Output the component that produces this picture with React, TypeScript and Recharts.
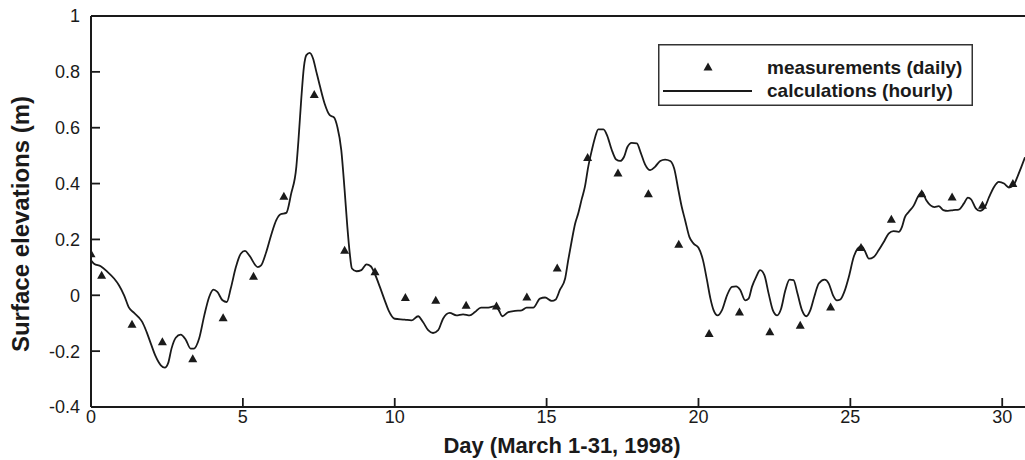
import React from 'react';
import { ComposedChart, Line, Scatter, XAxis, YAxis, ReferenceLine, Legend, Label } from 'recharts';

// ---- data ----
const measDays = [0, 0.35, 1.35, 2.35, 3.35, 4.35, 5.35, 6.35, 7.35, 8.35, 9.35, 10.35, 11.35, 12.35, 13.35, 14.35, 15.35, 16.35, 17.35, 18.35, 19.35, 20.35, 21.35, 22.35, 23.35, 24.35, 25.35, 26.35, 27.35, 28.35, 29.35, 30.35];
const measValues = [0.149, 0.072, -0.104, -0.166, -0.227, -0.08, 0.068, 0.355, 0.719, 0.161, 0.084, -0.008, -0.018, -0.036, -0.038, -0.006, 0.098, 0.493, 0.438, 0.364, 0.183, -0.137, -0.06, -0.131, -0.107, -0.042, 0.171, 0.272, 0.364, 0.352, 0.322, 0.4];

const calcDays = [0.00, 0.10, 0.32, 0.54, 0.76, 0.92, 1.09, 1.25, 1.42, 1.58, 1.69, 1.83, 1.97, 2.13, 2.30, 2.43, 2.54, 2.65, 2.79, 2.95, 3.12, 3.28, 3.39, 3.56, 3.73, 3.89, 4.03, 4.16, 4.33, 4.47, 4.60, 4.77, 4.93, 5.07, 5.21, 5.49, 5.60, 5.77, 5.93, 6.10, 6.24, 6.43, 6.59, 6.76, 6.83, 6.92, 7.01, 7.09, 7.20, 7.31, 7.42, 7.53, 7.69, 7.86, 8.00, 8.11, 8.24, 8.35, 8.44, 8.52, 8.59, 8.74, 8.90, 9.07, 9.21, 9.34, 9.51, 9.67, 9.80, 10.00, 10.33, 10.55, 10.77, 10.93, 11.10, 11.26, 11.43, 11.59, 11.81, 12.03, 12.25, 12.47, 12.64, 12.84, 13.08, 13.30, 13.43, 13.54, 13.74, 13.96, 14.18, 14.34, 14.56, 14.78, 14.95, 15.17, 15.30, 15.44, 15.61, 15.71, 15.83, 15.94, 16.04, 16.16, 16.26, 16.37, 16.49, 16.60, 16.70, 16.87, 17.00, 17.14, 17.29, 17.42, 17.55, 17.66, 17.80, 17.97, 18.10, 18.24, 18.41, 18.57, 18.74, 18.90, 19.07, 19.20, 19.34, 19.45, 19.56, 19.70, 19.84, 20.00, 20.15, 20.28, 20.39, 20.50, 20.63, 20.77, 20.94, 21.10, 21.24, 21.37, 21.54, 21.65, 21.76, 21.90, 22.03, 22.17, 22.31, 22.45, 22.59, 22.72, 22.86, 23.00, 23.13, 23.26, 23.41, 23.55, 23.68, 23.81, 23.96, 24.15, 24.29, 24.43, 24.56, 24.67, 24.80, 24.95, 25.11, 25.24, 25.37, 25.48, 25.61, 25.77, 25.93, 26.10, 26.26, 26.42, 26.59, 26.70, 26.79, 26.92, 27.09, 27.22, 27.36, 27.50, 27.64, 27.77, 27.91, 28.06, 28.21, 28.39, 28.57, 28.74, 28.87, 28.98, 29.13, 29.27, 29.43, 29.57, 29.73, 29.89, 30.06, 30.22, 30.37, 30.50, 30.63, 30.75];
const calcValues = [0.125, 0.113, 0.104, 0.084, 0.060, 0.036, 0.000, -0.044, -0.063, -0.080, -0.096, -0.131, -0.173, -0.219, -0.251, -0.259, -0.243, -0.191, -0.152, -0.141, -0.159, -0.191, -0.191, -0.155, -0.072, -0.006, 0.020, 0.012, -0.018, -0.024, 0.024, 0.101, 0.149, 0.159, 0.143, 0.101, 0.107, 0.155, 0.215, 0.269, 0.290, 0.295, 0.364, 0.460, 0.555, 0.699, 0.818, 0.860, 0.868, 0.848, 0.800, 0.752, 0.687, 0.645, 0.637, 0.603, 0.520, 0.376, 0.245, 0.149, 0.096, 0.086, 0.090, 0.111, 0.104, 0.078, 0.030, -0.018, -0.055, -0.084, -0.087, -0.090, -0.075, -0.096, -0.125, -0.135, -0.125, -0.084, -0.063, -0.072, -0.068, -0.072, -0.060, -0.044, -0.044, -0.039, -0.054, -0.075, -0.060, -0.056, -0.054, -0.044, -0.044, -0.012, -0.008, -0.020, -0.015, 0.020, 0.060, 0.125, 0.197, 0.257, 0.293, 0.346, 0.388, 0.460, 0.520, 0.567, 0.594, 0.594, 0.570, 0.522, 0.486, 0.481, 0.496, 0.531, 0.546, 0.544, 0.510, 0.469, 0.448, 0.460, 0.481, 0.486, 0.481, 0.454, 0.376, 0.316, 0.269, 0.209, 0.185, 0.170, 0.125, 0.054, -0.010, -0.054, -0.072, -0.054, 0.000, 0.030, 0.032, 0.020, -0.018, -0.012, 0.030, 0.066, 0.090, 0.072, 0.006, -0.054, -0.072, -0.048, 0.018, 0.056, 0.054, 0.006, -0.054, -0.075, -0.054, -0.006, 0.042, 0.056, 0.042, 0.000, -0.018, -0.015, 0.012, 0.066, 0.137, 0.167, 0.176, 0.158, 0.131, 0.137, 0.161, 0.191, 0.221, 0.230, 0.227, 0.245, 0.278, 0.298, 0.322, 0.352, 0.370, 0.340, 0.322, 0.316, 0.319, 0.305, 0.302, 0.305, 0.307, 0.329, 0.350, 0.343, 0.311, 0.302, 0.316, 0.352, 0.388, 0.406, 0.400, 0.386, 0.394, 0.424, 0.460, 0.494];

const xTicks = [0, 5, 10, 15, 20, 25, 30];
const yTicks = [-0.4, -0.2, 0, 0.2, 0.4, 0.6, 0.8, 1];
const measName = 'measurements (daily)';
const calcName = 'calculations (hourly)';
const xTitle = 'Day (March 1-31, 1998)';
const yTitle = 'Surface elevations (m)';

const measData = measDays.map((d, i) => ({ day: d, value: measValues[i] }));
const calcData = calcDays.map((d, i) => ({ day: d, value: calcValues[i] }));

// ---- layout ----
const W = 1025;
const H = 460;
const PLOT_LEFT = 91;
const PLOT_TOP = 16;
const PLOT_BOTTOM = 407;
const FONT = '"Liberation Sans", Arial, Helvetica, sans-serif';
const INK = '#1a1a1a';

const YTick = (props: any) => {
  const { y, payload } = props;
  return (
    <g>
      <line x1={PLOT_LEFT} x2={PLOT_LEFT + 9} y1={y} y2={y} stroke={INK} strokeWidth={1.8} />
      <text x={PLOT_LEFT - 11} y={y} dy="0.36em" textAnchor="end" fontFamily={FONT} fontSize={18} fill={INK}>
        {String(payload.value)}
      </text>
    </g>
  );
};

const XTick = (props: any) => {
  const { x, payload } = props;
  return (
    <g>
      <line x1={x} x2={x} y1={PLOT_BOTTOM} y2={PLOT_BOTTOM - 9} stroke={INK} strokeWidth={1.8} />
      <text x={x} y={PLOT_BOTTOM + 16} textAnchor="middle" fontFamily={FONT} fontSize={18} fill={INK}>
        {String(payload.value)}
      </text>
    </g>
  );
};

const Triangle = (props: any) => {
  const { cx, cy } = props;
  if (cx == null || cy == null) return null;
  return <polygon points={`${cx},${cy - 4.5} ${cx + 4.5},${cy + 3.5} ${cx - 4.5},${cy + 3.5}`} fill={INK} />;
};

const LegendBox = () => (
  <svg width={315} height={62} style={{ display: 'block' }}>
    <rect x={0.75} y={0.75} width={313.5} height={60.5} fill="#fff" stroke="#333" strokeWidth={1.5} />
    <polygon points="50,18.5 54.5,26.5 45.5,26.5" fill={INK} />
    <line x1={5} x2={94} y1={47} y2={47} stroke={INK} strokeWidth={1.8} />
    <text x={109} y={30} fontFamily={FONT} fontWeight="bold" fontSize={19} fill={INK}>{measName}</text>
    <text x={109} y={53} fontFamily={FONT} fontWeight="bold" fontSize={19} fill={INK}>{calcName}</text>
  </svg>
);

export default function App() {
  return (
    <div style={{ position: 'absolute', left: 0, top: 0, width: W, height: H, background: '#fff' }}>
      <ComposedChart width={W} height={H} margin={{ top: PLOT_TOP, right: 0, bottom: 0, left: 0 }}>
        <XAxis
          type="number"
          dataKey="day"
          domain={[0, 30.75]}
          allowDataOverflow
          ticks={xTicks}
          height={H - PLOT_BOTTOM}
          tick={XTick}
          tickLine={false}
          axisLine={{ stroke: INK, strokeWidth: 2 }}
        >
          <Label
            content={() => (
              <text x={562} y={453} textAnchor="middle" fontFamily={FONT} fontWeight="bold" fontSize={22} fill={INK}>
                {xTitle}
              </text>
            )}
          />
        </XAxis>
        <YAxis
          type="number"
          domain={[-0.4, 1]}
          ticks={yTicks}
          width={PLOT_LEFT}
          tick={YTick}
          tickLine={false}
          axisLine={{ stroke: INK, strokeWidth: 2 }}
        >
          <Label
            content={() => (
              <text
                x={28.5}
                y={224}
                transform="rotate(-90, 28.5, 224)"
                textAnchor="middle"
                fontFamily={FONT}
                fontWeight="bold"
                fontSize={24}
                fill={INK}
              >
                {yTitle}
              </text>
            )}
          />
        </YAxis>
        <ReferenceLine y={1} stroke={INK} strokeWidth={2} />
        <Legend
          layout="vertical"
          align="center"
          verticalAlign="middle"
          wrapperStyle={{ left: 658, top: 44, width: 315, height: 62 }}
          content={() => <LegendBox />}
        />
        <Line
          data={calcData}
          dataKey="value"
          name={calcName}
          type="monotone"
          dot={false}
          activeDot={false}
          stroke={INK}
          strokeWidth={1.8}
          isAnimationActive={false}
        />
        <Scatter
          data={measData}
          dataKey="value"
          name={measName}
          shape={Triangle}
          fill={INK}
          isAnimationActive={false}
        />
      </ComposedChart>
    </div>
  );
}
